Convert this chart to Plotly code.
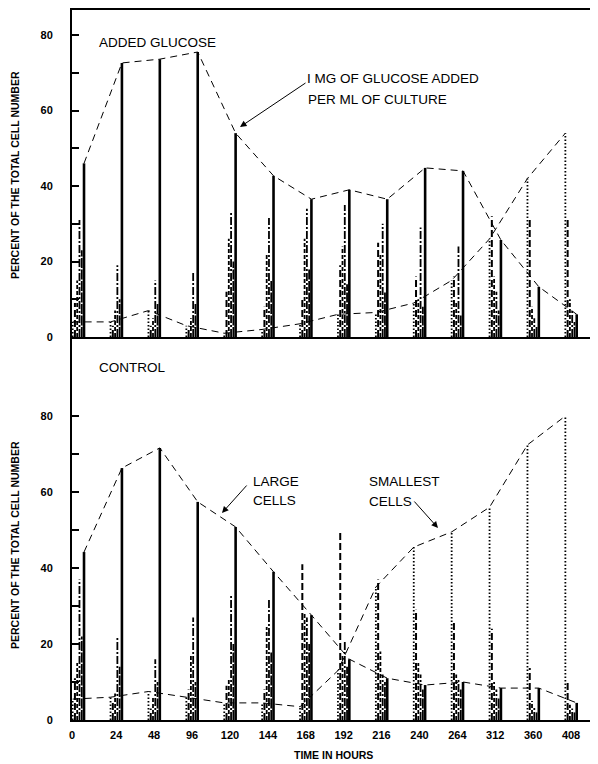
import plotly.graph_objects as go

# ---------------- data ----------------
time_labels = ["0", "24", "48", "96", "120", "144", "168", "192",
               "216", "240", "264", "312", "360", "408"]
class_names = ["smallest cells", "small cells", "medium-small cells",
               "medium cells", "medium-large cells", "large cells"]

# Added glucose panel (percent of total cell number)
glucose_smallest = [4, 4, 7, 3, 1, 2, 3.5, 6, 6.5, 9, 15, 26, 42, 54]
glucose_small = [9, 3, 3, 2, 12, 8, 10, 19, 25, 16, 16, 32, 31.5, 31.5]
glucose_medsmall = [15, 7, 5, 5, 26, 22, 26, 24, 22, 10, 9, 16, 8, 10]
glucose_medium = [31, 19, 15, 17, 33, 31.5, 34, 35, 30, 29, 24, 12, 5, 7]
glucose_medlarge = [23, 10, 9, 9, 20, 15, 18, 14, 12, 8, 6, 7, 3, 4]
glucose_large = [46, 72.6, 73.6, 75.5, 54, 42.7, 36.5, 39, 36.5, 44.8, 44, 25.7, 13.3, 6]

# Control panel
control_smallest = [5.5, 6, 7.5, 6, 4.5, 4.5, 3.5, 13, 35, 45.5, 49.5, 56, 72.4, 80]
control_small = [11, 5, 3, 8, 9, 8, 41, 50, 37, 29, 26, 24, 13.7, 10]
control_medsmall = [15, 7, 6, 17, 11, 24.5, 28, 17, 18, 15, 12, 10, 5, 4]
control_medium = [37, 21.6, 16, 27, 33, 31.6, 27, 21, 12, 12, 10.5, 8, 3.5, 3]
control_medlarge = [22, 14, 10, 10, 20, 18, 20, 14, 10, 8, 8, 6, 2, 2]
control_large = [44.2, 66.3, 71.6, 57.4, 50.8, 39, 27.6, 16, 11, 9.2, 10, 8.4, 8.4, 4.5]

y_ticks = [0, 20, 40, 60, 80]

# ---------------- styling ----------------
offsets = [-0.30, -0.24, -0.18, -0.12, -0.06, 0.0]
dashes = ["1.5px,2px", "7px,3px", "4px,2px", "8px,2px,2px,2px", "10px,1.5px", "solid"]
widths = [1.8, 2.0, 1.8, 1.8, 1.8, 2.6]
env_dash = "7px,5px"

X_LEFT, X_RIGHT = -0.317, 13.35
W, H = 598, 764
ML, MR, MT, MB = 72, 8, 10, 44
PW, PH = W - ML - MR, H - MT - MB
split = (720 - 337) / PH

def xp(px):
    return (px - ML) / PW

def yp(py):
    return (H - MB - py) / PH

fig = go.Figure()

panels = [
    ("x2", "y2", [glucose_smallest, glucose_small, glucose_medsmall,
                  glucose_medium, glucose_medlarge, glucose_large]),
    ("x", "y", [control_smallest, control_small, control_medsmall,
                control_medium, control_medlarge, control_large]),
]

n = len(time_labels)
for xa, ya, series in panels:
    for k, vals in enumerate(series):
        xs, ys = [], []
        for i, v in enumerate(vals):
            xs += [i + offsets[k], i + offsets[k], None]
            ys += [0, v, None]
        fig.add_trace(go.Scatter(
            x=xs, y=ys, mode="lines", xaxis=xa, yaxis=ya,
            name=class_names[k], showlegend=False, hoverinfo="skip",
            line=dict(color="black", width=widths[k], dash=dashes[k])))
    # envelope for the large cells and the smallest cells
    fig.add_trace(go.Scatter(
        x=[i + offsets[5] for i in range(n)], y=series[5], mode="lines",
        xaxis=xa, yaxis=ya, showlegend=False, hoverinfo="skip",
        line=dict(color="black", width=1, dash=env_dash)))
    fig.add_trace(go.Scatter(
        x=[i + offsets[0] for i in range(n)], y=series[0], mode="lines",
        xaxis=xa, yaxis=ya, showlegend=False, hoverinfo="skip",
        line=dict(color="black", width=1, dash=env_dash)))

tick_font = dict(family="Liberation Sans", size=11, color="black", weight="bold")
tickvals = [X_LEFT] + [i - 0.15 for i in range(1, n)]

yax_common = dict(
    tickvals=y_ticks, ticks="inside", ticklen=7, tickwidth=1.5, tickcolor="black",
    showline=True, linewidth=2, linecolor="black", showgrid=False, zeroline=False,
    tickfont=tick_font, ticklabelstandoff=15,
    minor=dict(ticks="inside", ticklen=7, tickwidth=1.5, tickcolor="black",
               tickvals=[10, 30, 50, 70]),
)

fig.update_layout(
    width=W, height=H,
    margin=dict(l=ML, r=MR, t=MT, b=MB),
    paper_bgcolor="white", plot_bgcolor="white",
    showlegend=False,
    xaxis=dict(domain=[0, 1], range=[X_LEFT, X_RIGHT], anchor="y",
               showline=True, linewidth=2, linecolor="black", showgrid=False,
               zeroline=False, tickvals=tickvals, ticktext=time_labels,
               ticks="", tickfont=tick_font, ticklabelstandoff=4),
    xaxis2=dict(domain=[0, 1], range=[X_LEFT, X_RIGHT], anchor="y2",
                showline=True, mirror=True, linewidth=2, linecolor="black",
                showgrid=False, zeroline=False, showticklabels=False, ticks=""),
    yaxis=dict(domain=[0, split], range=[0, (720 - 337) / 3.8], anchor="x", **yax_common),
    yaxis2=dict(domain=[split, 1], range=[0, (337 - 10) / 3.775], anchor="x2", **yax_common),
)

text_font = dict(family="Liberation Sans", size=13.5, color="black")
title_font = dict(family="Liberation Sans", size=10.5, color="black", weight="bold")

def label(text, px, py, font=text_font, xanchor="left", angle=0):
    fig.add_annotation(text=text, x=xp(px), y=yp(py), xref="paper", yref="paper",
                       showarrow=False, xanchor=xanchor, yanchor="middle",
                       font=font, textangle=angle)

def arrow(tail, head):
    fig.add_annotation(text="", x=xp(head[0]), y=yp(head[1]), xref="paper", yref="paper",
                       ax=tail[0] - head[0], ay=tail[1] - head[1], showarrow=True,
                       arrowhead=2, arrowsize=1.3, arrowwidth=1, arrowcolor="black")

label("ADDED GLUCOSE", 97, 42)
label("I MG OF GLUCOSE ADDED", 305, 79)
label("PER ML OF CULTURE", 306, 99)
arrow((307, 82), (240, 127))

label("CONTROL", 97, 367)
label("LARGE", 251, 481)
label("CELLS", 251, 500)
arrow((248, 484), (222, 513))
label("SMALLEST", 367, 481)
label("CELLS", 367, 501)
arrow((413, 500), (438, 528))

label("PERCENT OF THE TOTAL CELL NUMBER", 15, 175, font=title_font, xanchor="center", angle=-90)
label("PERCENT OF THE TOTAL CELL NUMBER", 15, 545, font=title_font, xanchor="center", angle=-90)
label("TIME IN HOURS", 333, 755, font=title_font, xanchor="center")

fig.write_html("out.html", config={"displayModeBar": False},
               post_script="document.body.style.margin='0';document.body.style.overflow='hidden';")
